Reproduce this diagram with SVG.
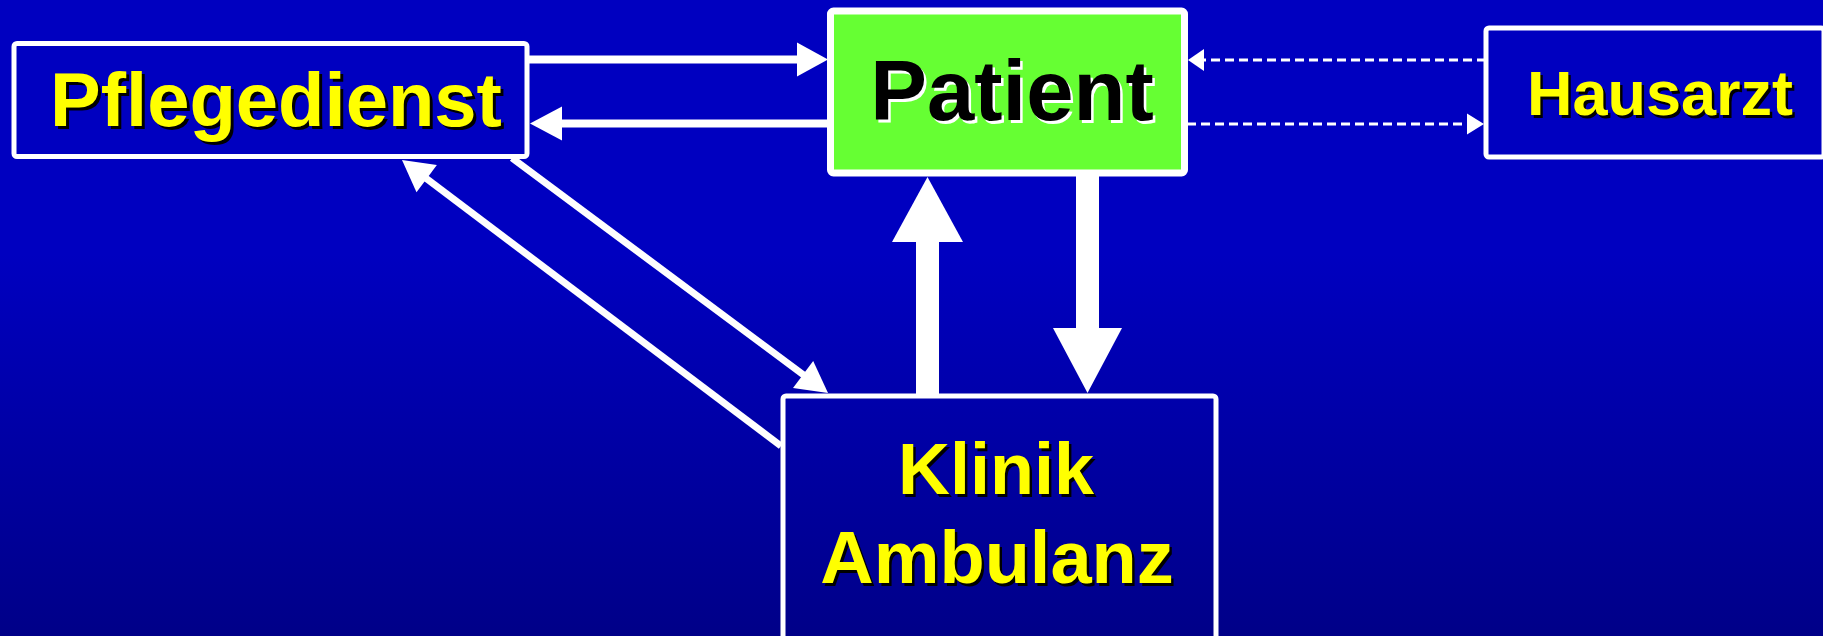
<svg xmlns="http://www.w3.org/2000/svg" width="1823" height="636" viewBox="0 0 1823 636">
<defs>
<linearGradient id="bg" x1="0" y1="0" x2="0" y2="1">
<stop offset="0" stop-color="#0000C0"/>
<stop offset="0.4" stop-color="#0000C0"/>
<stop offset="1" stop-color="#000088"/>
</linearGradient>
</defs>
<style>
.box{fill:none;stroke:#FFFFFF;stroke-width:5}
.t{font-family:"Liberation Sans",Arial,sans-serif;font-weight:bold;text-anchor:middle}
.y{fill:#FFFF00}
.ysh{fill:#000000}
.k{fill:#000000}
.ksh{fill:#FFFFFF}
.ln{stroke:#FFFFFF;stroke-width:8;fill:none}
.dg{stroke:#FFFFFF;stroke-width:7;fill:none}
.ds{stroke:#FFFFFF;stroke-width:3;fill:none;stroke-dasharray:9 5}
.hd{fill:#FFFFFF}
</style>
<rect x="0" y="0" width="1823" height="636" fill="url(#bg)"/>
<g id="connectors">
<line class="ln" x1="527" y1="59.5" x2="799" y2="59.5"/>
<polygon class="hd" points="797,42.5 828,59.5 797,76.5"/>
<line class="ln" x1="830" y1="123.5" x2="560" y2="123.5"/>
<polygon class="hd" points="562,106.5 530,123.5 562,140.5"/>
<line class="ds" x1="1486" y1="60" x2="1204" y2="60"/>
<polygon class="hd" points="1204,49 1188,60 1204,71"/>
<line class="ds" x1="1187" y1="124" x2="1468" y2="124"/>
<polygon class="hd" points="1467,113.5 1484,124 1467,134.5"/>
<rect class="hd" x="916" y="240" width="23" height="156"/>
<polygon class="hd" points="892,242 927.5,177 963,242"/>
<rect class="hd" x="1076" y="175" width="23" height="155"/>
<polygon class="hd" points="1053,328 1087.5,393 1122,328"/>
<line class="dg" x1="781" y1="446" x2="425" y2="177.5"/>
<polygon class="hd" points="402,160 416.5,192.3 436.9,165.1"/>
<line class="dg" x1="512" y1="158" x2="805" y2="376"/>
<polygon class="hd" points="828,393 793,388 813.2,360.9"/>
</g>
<g id="pflegedienst">
<rect class="box" x="14" y="43.5" width="513" height="113" rx="3"/>
<text class="t ysh" x="279" y="128.5" font-size="76">Pflegedienst</text>
<text class="t y" x="276" y="126" font-size="76">Pflegedienst</text>
</g>
<g id="patient">
<rect x="830.5" y="11" width="354" height="162" rx="3" fill="#66FF33" stroke="#FFFFFF" stroke-width="7"/>
<text class="t ksh" x="1014.5" y="122.5" font-size="85">Patient</text>
<text class="t k" x="1012" y="120" font-size="85">Patient</text>
</g>
<g id="hausarzt">
<rect class="box" x="1486" y="28" width="338" height="129" rx="3"/>
<text class="t ysh" x="1662.5" y="117.5" font-size="63">Hausarzt</text>
<text class="t y" x="1660" y="115" font-size="63">Hausarzt</text>
</g>
<g id="klinik">
<rect class="box" x="783" y="396" width="433" height="260" rx="3"/>
<text class="t ysh" x="998.5" y="496.5" font-size="72">Klinik</text>
<text class="t y" x="996" y="494" font-size="72">Klinik</text>
<text class="t ysh" x="999.5" y="585.5" font-size="74">Ambulanz</text>
<text class="t y" x="997" y="583" font-size="74">Ambulanz</text>
</g>
</svg>
